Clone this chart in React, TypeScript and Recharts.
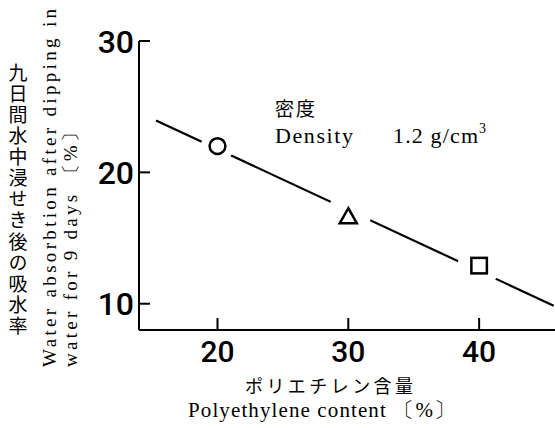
import React from 'react';
import { ComposedChart, Line, Scatter, XAxis, YAxis } from 'recharts';

// Polyethylene content (%) vs. water absorption (%) after 9 days in water
const contentTicks = [20, 30, 40];
const absorptionTicks = [10, 20, 30];

const samples = [
  { x: 20, y: 22.0, marker: 'circle' },
  { x: 30, y: 16.7, marker: 'triangle' },
  { x: 40, y: 12.9, marker: 'square' },
];

// straight trend line drawn through the samples
const trend = [
  { x: 15.3, y: 23.95 },
  { x: 45.7, y: 9.85 },
];

const yTitleJa = '九日間水中浸せき後の吸水率';
const yTitleEn1 = 'Water absorbtion after dipping in';
const yTitleEn2 = 'water for 9 days 〔%〕';
const xTitleJa = 'ポリエチレン含量';
const xTitleEn = 'Polyethylene content 〔%〕';
const noteJa = '密度';
const noteEn = 'Density';
const noteValue = '1.2 g/cm';
const noteExp = '3';

const SERIF = '"Liberation Serif", "DejaVu Serif", serif';
const CJK = '"Noto Sans CJK JP", sans-serif';
const NUM = 'Roboto, "Liberation Sans", sans-serif';

const XTick = (props: any) => {
  const { x, y, payload } = props;
  return (
    <g>
      <line x1={x} y1={y} x2={x} y2={y - 12} stroke="#000" strokeWidth={2} />
      <text x={x} y={y + 32} textAnchor="middle" fontFamily={NUM} fontWeight={500} fontSize={30} fill="#000">
        {payload.value}
      </text>
    </g>
  );
};

const YTick = (props: any) => {
  const { x, y, payload } = props;
  return (
    <g>
      <line x1={x} y1={y} x2={x + 11} y2={y} stroke="#000" strokeWidth={2} />
      <text x={x - 5} y={y + 11.5} textAnchor="end" fontFamily={NUM} fontWeight={500} fontSize={32} fill="#000">
        {payload.value}
      </text>
    </g>
  );
};

const Marker = (props: any) => {
  const { cx, cy, payload } = props;
  const sw = 2.5;
  let halo = 16.5;
  let mark: React.ReactNode = null;
  if (payload.marker === 'circle') {
    mark = <circle cx={cx} cy={cy} r={7.9} fill="#fff" stroke="#000" strokeWidth={sw} />;
  } else if (payload.marker === 'triangle') {
    halo = 22.5;
    const d = `M${cx},${cy - 7.5} L${cx + 8.5},${cy + 7.5} L${cx - 8.5},${cy + 7.5} Z`;
    mark = <path d={d} fill="#fff" stroke="#000" strokeWidth={sw} strokeLinejoin="miter" />;
  } else {
    halo = 21.5;
    mark = <rect x={cx - 7.75} y={cy - 7.75} width={15.5} height={15.5} fill="#fff" stroke="#000" strokeWidth={sw} />;
  }
  return (
    <g>
      <circle cx={cx} cy={cy} r={halo} fill="#fff" />
      {mark}
    </g>
  );
};

export default function App() {
  return (
    <div style={{ position: 'absolute', left: 0, top: 0, width: 555, height: 428, background: '#fff' }}>
      <ComposedChart width={555} height={428} margin={{ top: 41, right: 0, bottom: 0, left: 0 }}>
        <XAxis
          dataKey="x"
          type="number"
          domain={[14, 45.8]}
          ticks={contentTicks}
          interval={0}
          height={98}
          tickLine={false}
          tickSize={0}
          tickMargin={0}
          axisLine={{ stroke: '#000', strokeWidth: 2 }}
          tick={<XTick />}
          allowDataOverflow
        />
        <YAxis
          dataKey="y"
          type="number"
          domain={[8, 30]}
          ticks={absorptionTicks}
          interval={0}
          width={139}
          tickLine={false}
          tickSize={0}
          tickMargin={0}
          axisLine={{ stroke: '#000', strokeWidth: 2 }}
          tick={<YTick />}
          allowDataOverflow
        />
        <Line
          data={trend}
          dataKey="y"
          type="linear"
          stroke="#000"
          strokeWidth={2.2}
          dot={false}
          activeDot={false}
          isAnimationActive={false}
        />
        <Scatter data={samples} dataKey="y" shape={<Marker />} isAnimationActive={false} />
      </ComposedChart>
      <svg
        width={555}
        height={428}
        style={{ position: 'absolute', left: 0, top: 0, pointerEvents: 'none' }}
      >
        <text
          x={18}
          y={63}
          fontFamily={CJK}
          fontSize={19}
          letterSpacing={2.1}
          style={{ writingMode: 'vertical-rl' }}
          fill="#000"
        >
          {yTitleJa}
        </text>
        <text
          transform="translate(56,367) rotate(-90)"
          fontFamily={SERIF}
          fontSize={19}
          textLength={358}
          lengthAdjust="spacing"
          fill="#000"
        >
          {yTitleEn1}
        </text>
        <text
          transform="translate(77,367) rotate(-90)"
          fontFamily={SERIF}
          fontSize={19}
          textLength={244}
          lengthAdjust="spacing"
          fill="#000"
        >
          {yTitleEn2}
        </text>
        <text x={329} y={393} textAnchor="middle" fontFamily={CJK} fontSize={18} textLength={168} lengthAdjust="spacing" fill="#000">
          {xTitleJa}
        </text>
        <text x={188} y={417} fontFamily={SERIF} fontSize={21} textLength={267} lengthAdjust="spacing" fill="#000">
          {xTitleEn}
        </text>
        <text x={275} y={115.5} fontFamily={CJK} fontSize={19} letterSpacing={2} fill="#000">
          {noteJa}
        </text>
        <text x={275} y={143} fontFamily={SERIF} fontSize={22} textLength={78} lengthAdjust="spacing" fill="#000">
          {noteEn}
        </text>
        <text x={393} y={143} fontFamily={SERIF} fontSize={22} textLength={85} lengthAdjust="spacing" fill="#000">
          {noteValue}
        </text>
        <text x={479} y={133} fontFamily={SERIF} fontSize={14} fill="#000">
          {noteExp}
        </text>
      </svg>
    </div>
  );
}
